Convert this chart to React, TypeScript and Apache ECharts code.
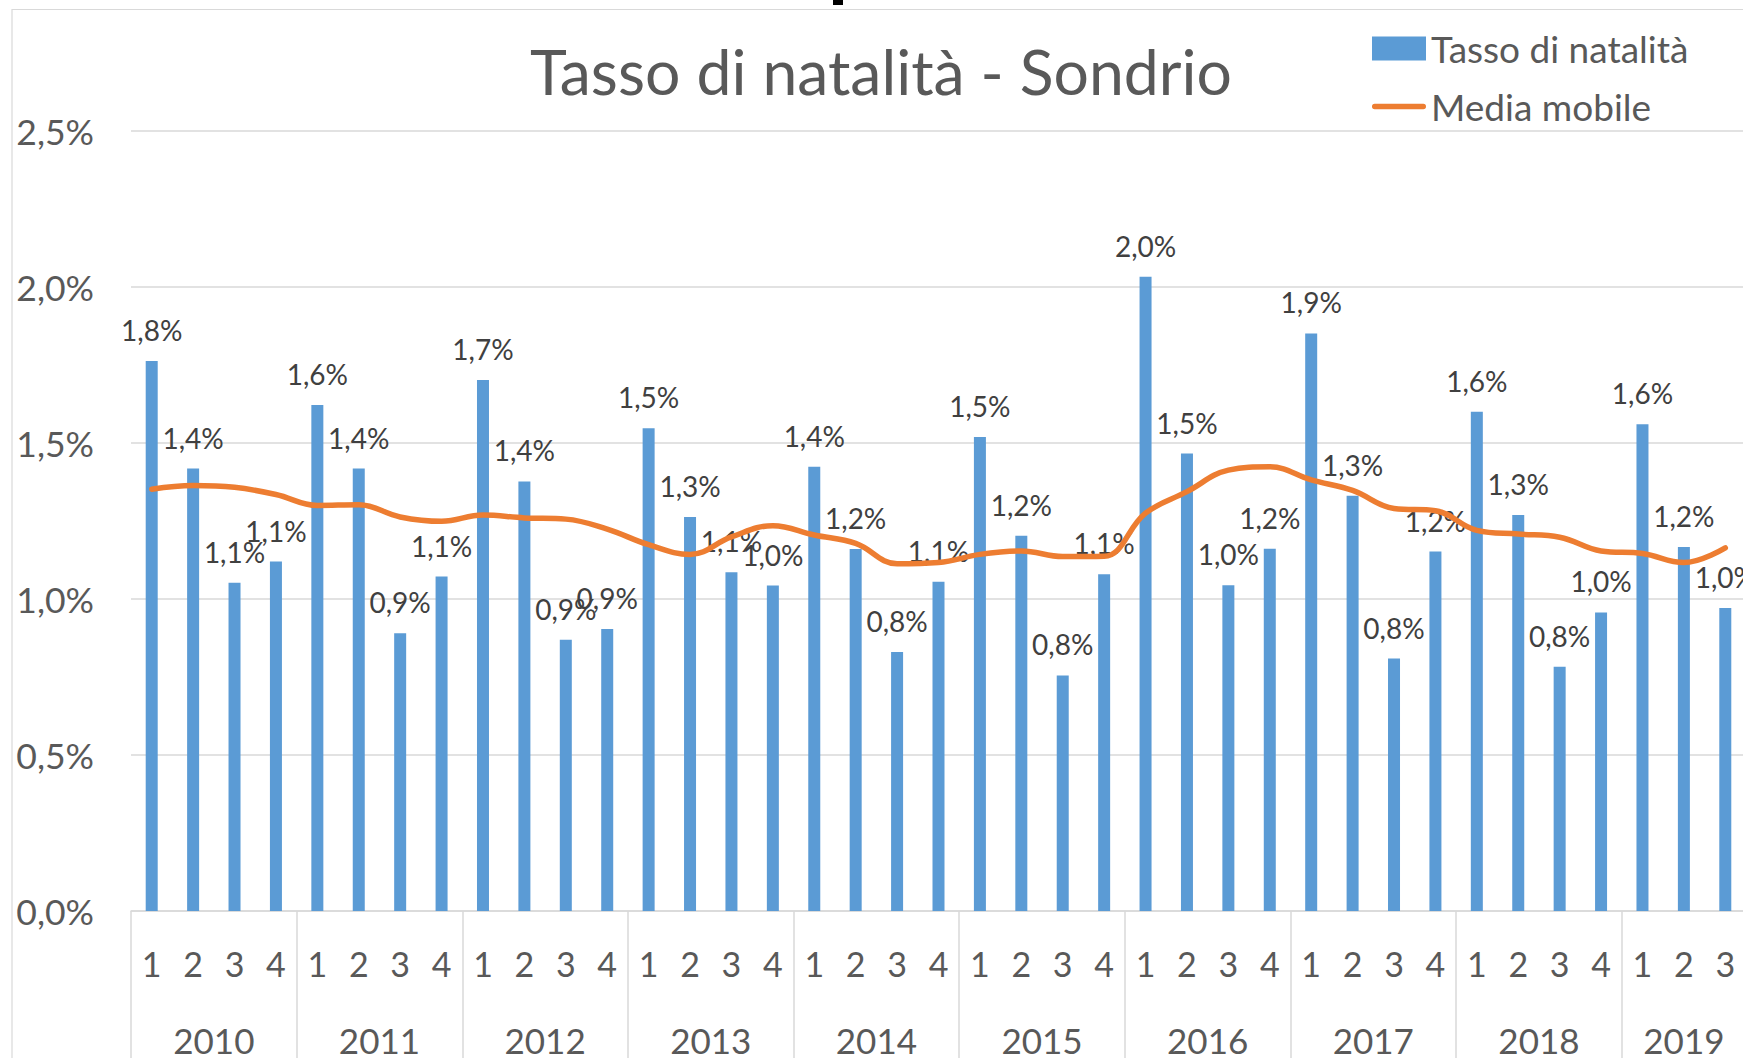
import React, { useEffect, useRef } from "react";
import * as echarts from "echarts";

const years = ["2010", "2011", "2012", "2013", "2014", "2015", "2016", "2017", "2018", "2019"];
const quartersPerYear = [4, 4, 4, 4, 4, 4, 4, 4, 4, 3];
const yTicks = [0, 0.5, 1, 1.5, 2, 2.5];

const birthRate = [
  1.763, 1.418, 1.052, 1.12,
  1.622, 1.418, 0.89, 1.072,
  1.702, 1.377, 0.869, 0.904,
  1.547, 1.263, 1.086, 1.043,
  1.424, 1.16, 0.83, 1.055,
  1.519, 1.203, 0.755, 1.079,
  2.033, 1.466, 1.044, 1.161,
  1.851, 1.331, 0.809, 1.152,
  1.6, 1.269, 0.783, 0.957,
  1.56, 1.167, 0.971,
];

const movingAvg = [
  1.352, 1.364, 1.358, 1.335,
  1.3, 1.302, 1.263, 1.249,
  1.269, 1.26, 1.256, 1.224,
  1.174, 1.143, 1.199, 1.235,
  1.205, 1.178, 1.113, 1.117,
  1.143, 1.154, 1.136, 1.137,
  1.275, 1.344, 1.413, 1.424,
  1.382, 1.348, 1.29, 1.283,
  1.22, 1.208, 1.198, 1.154,
  1.146, 1.117, 1.164,
];

const FONT = "Lato, 'Open Sans', sans-serif";
const fmt = (v: number) => v.toFixed(1).replace(".", ",") + "%";

export default function App() {
  const ref = useRef<HTMLDivElement>(null);
  useEffect(() => {
    if (!ref.current) return;
    const chart = echarts.init(ref.current, null, { renderer: "svg" });

    const quarterLabels: string[] = [];
    const yearStarts: number[] = [];
    const yearCenters: Record<string, string> = {};
    let idx = 0;
    quartersPerYear.forEach((n, i) => {
      yearStarts.push(idx);
      yearCenters[String(idx + n / 2)] = years[i];
      for (let q = 1; q <= n; q++) quarterLabels.push(String(q));
      idx += n;
    });
    const total = quarterLabels.length;

    chart.setOption({
      animation: false,
      backgroundColor: "#ffffff",
      textStyle: { fontFamily: FONT },
      graphic: [
        {
          type: "rect",
          shape: { x: 12, y: 9.5, width: 1800, height: 1100 },
          style: { fill: "none", stroke: "#D9D9D9", lineWidth: 1.2 },
          silent: true,
        },
        {
          type: "rect",
          shape: { x: 833, y: 0, width: 10, height: 5 },
          style: { fill: "#000000" },
          silent: true,
        },
        {
          type: "text",
          x: 881,
          y: 70,
          style: {
            text: "Tasso di natalità - Sondrio",
            fill: "#595959",
            font: `62.5px ${FONT}`,
            textAlign: "center",
            textVerticalAlign: "middle",
            verticalAlign: "middle",
          },
          silent: true,
        },
      ],
      legend: {
        orient: "vertical",
        left: 1367,
        top: 25,
        itemWidth: 54,
        itemHeight: 24,
        itemGap: 21,
        textStyle: { fontSize: 37, color: "#595959", fontFamily: FONT },
        data: [
          { name: "Tasso di natalità", icon: "rect" },
          {
            name: "Media mobile",
            icon: "path://M3,0 L57,0 A3,3 0 0 1 57,6 L3,6 A3,3 0 0 1 3,0 Z",
            itemStyle: { color: "#ED7D31" },
          },
        ],
      },
      grid: {
        left: 131,
        right: -3,
        top: 131,
        bottom: 147,
        outerBoundsMode: "none",
        containLabel: false,
      },
      xAxis: [
        {
          type: "category",
          data: quarterLabels,
          boundaryGap: true,
          axisLine: { show: true, lineStyle: { color: "#D9D9D9", width: 1.5 } },
          axisTick: {
            show: true,
            length: 160,
            interval: (i: number) => yearStarts.includes(i),
            lineStyle: { color: "#D9D9D9", width: 1.5 },
          },
          axisLabel: {
            interval: 0,
            margin: 35,
            fontSize: 34,
            color: "#595959",
            fontFamily: FONT,
          },
          splitLine: { show: false },
        },
        {
          type: "value",
          position: "bottom",
          min: 0,
          max: total,
          interval: 0.5,
          axisLine: { show: false },
          axisTick: { show: false },
          splitLine: { show: false },
          axisLabel: {
            margin: 111,
            fontSize: 35,
            color: "#595959",
            fontFamily: FONT,
            formatter: (v: number) => yearCenters[String(v)] || "",
          },
        },
      ],
      yAxis: {
        type: "value",
        min: 0,
        max: 2.5,
        interval: 0.5,
        axisLine: { show: false },
        axisTick: { show: false },
        splitLine: { lineStyle: { color: "#D9D9D9", width: 1.5 } },
        axisLabel: {
          margin: 37,
          fontSize: 35.5,
          color: "#595959",
          fontFamily: FONT,
          formatter: (v: number) => (yTicks.includes(v) ? fmt(v) : ""),
        },
      },
      series: [
        {
          name: "Tasso di natalità",
          type: "bar",
          data: birthRate,
          barWidth: 12,
          itemStyle: { color: "#5B9BD5" },
          label: {
            show: true,
            position: "top",
            distance: 17,
            fontSize: 28,
            color: "#404040",
            fontFamily: FONT,
            formatter: (p: any) => fmt(p.value),
          },
          z: 2,
        },
        {
          name: "Media mobile",
          type: "line",
          data: movingAvg,
          smooth: 0.4,
          symbol: "none",
          lineStyle: { color: "#ED7D31", width: 5.5, cap: "round" },
          itemStyle: { color: "#ED7D31" },
          z: 3,
        },
      ],
    });
    return () => chart.dispose();
  }, []);
  return (
    <div
      ref={ref}
      style={{ position: "fixed", left: 0, top: 0, width: 1743, height: 1058 }}
    />
  );
}
